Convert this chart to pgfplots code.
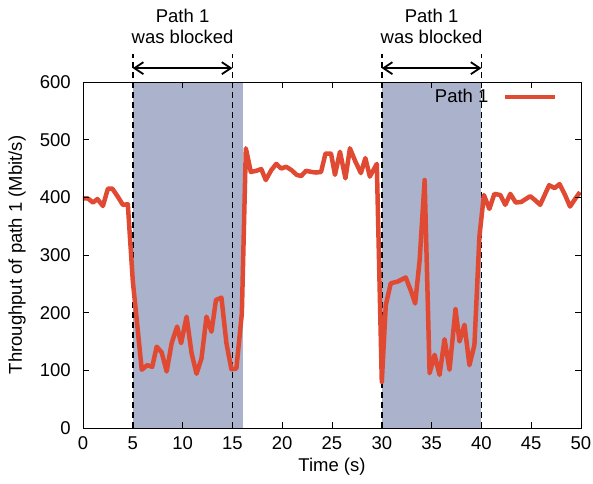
\documentclass[border=0pt]{standalone}
\usepackage{pgfplots}
\pgfplotsset{compat=1.18}
\usepackage{fontspec}
\setmainfont{Liberation Sans}
\usetikzlibrary{arrows.meta}
\definecolor{blockshade}{RGB}{171,178,204}
\definecolor{linered}{RGB}{224,74,50}
\pgfplotstableread{
x y
0 398
0.5 398
1.0 391
1.45 397
2.0 385
2.5 415
2.95 415
3.5 401
4.0 387
4.5 388
5.0 255
5.45 178
5.9 101
6.45 109
6.95 106
7.4 141
7.9 131
8.4 98
8.9 147
9.45 176
9.85 147
10.4 193
10.9 130
11.4 94
11.9 121
12.4 193
12.9 167
13.35 222
13.9 226
14.4 147
14.9 102
15.4 103
15.95 199
16.35 485
16.85 444
17.4 446
17.9 449
18.35 430
18.9 447
19.4 458
19.9 450
20.4 453
20.95 447
21.45 439
21.9 437
22.4 446
22.95 444
23.4 443
23.9 444
24.35 476
24.9 476
25.3 439
25.8 479
26.35 433
26.8 485
27.35 462
27.9 442
28.35 468
28.8 436
29.5 458
30.0 80
30.4 213
30.9 251
31.6 254
32.4 261
32.9 239
33.35 216
33.8 291
34.3 430
34.8 95
35.3 127
35.8 92
36.3 154
36.8 101
37.4 206
37.8 150
38.3 179
38.8 109
39.3 144
39.8 332
40.25 404
40.8 380
41.3 406
41.9 404
42.4 387
42.9 406
43.45 391
44.0 392
44.45 397
44.9 402
45.4 395
45.9 387
46.35 404
46.8 421
47.35 416
47.85 423
48.4 404
48.9 384
49.4 397
49.9 409
}\datatable
\begin{document}
\fontsize{18.5bp}{22bp}\selectfont
\begin{tikzpicture}
\begin{axis}[
  scale only axis, width=498bp, height=346bp,
  xmin=0, xmax=50, ymin=0, ymax=600,
  xtick={0,5,...,50}, ytick={0,100,...,600},
  /pgf/number format/assume math mode=true,
  tick align=inside,
  major tick length=6bp,
  tick style={black, line width=0.6bp},
  axis line style={line width=0.8bp},
  axis on top,
  clip=false,
  xlabel={Time (s)},
  ylabel={Throughput of path 1 (Mbit/s)},
  xlabel style={at={(axis description cs:0.5,-0.113)}, anchor=center},
  ylabel style={at={(axis description cs:-0.1325,0.5)}, anchor=center},
  xticklabel style={yshift=-2bp},
  yticklabel style={xshift=-6bp},
  legend plot pos=right,
  legend style={draw=none, fill=none, at={(axis cs:47.6,574)}, anchor=east, inner sep=0pt,
    font=\fontsize{18.5bp}{22bp}\selectfont},
  legend image code/.code={\path (0bp,0bp); \draw[#1] (12bp,0bp) -- (62bp,0bp);},
]
\fill[blockshade] (axis cs:5,0) rectangle (axis cs:16.1,600);
\fill[blockshade] (axis cs:30,0) rectangle (axis cs:40,600);
\foreach \xx in {5,15,30,40} {
  \edef\tmp{\noexpand\draw[black, line width=1.5bp, dash pattern=on 6bp off 4bp] (axis cs:\xx,0) -- (axis cs:\xx,648);}
  \tmp
}
\addplot[linered, line width=4.5bp, line join=round] table[x=x,y=y] {\datatable};
\addlegendentry{Path 1}
\draw[line width=1.8bp, {Straight Barb[length=9bp,width=12bp]}-{Straight Barb[length=9bp,width=12bp]}] (axis cs:5,624) -- (axis cs:15,624);
\draw[line width=1.8bp, {Straight Barb[length=9bp,width=12bp]}-{Straight Barb[length=9bp,width=12bp]}] (axis cs:30,624) -- (axis cs:40,624);
\node[align=center, inner sep=0pt] at (axis cs:10,697) {Path 1\\[-1bp]was blocked};
\node[align=center, inner sep=0pt] at (axis cs:35,697) {Path 1\\[-1bp]was blocked};
\end{axis}
\path (current axis.south west) ++(-83bp,-56bp) coordinate (bl);
\path (current axis.north east) ++(12bp,82bp) coordinate (tr);
\pgfresetboundingbox
\useasboundingbox (bl) rectangle (tr);
\end{tikzpicture}
\end{document}
